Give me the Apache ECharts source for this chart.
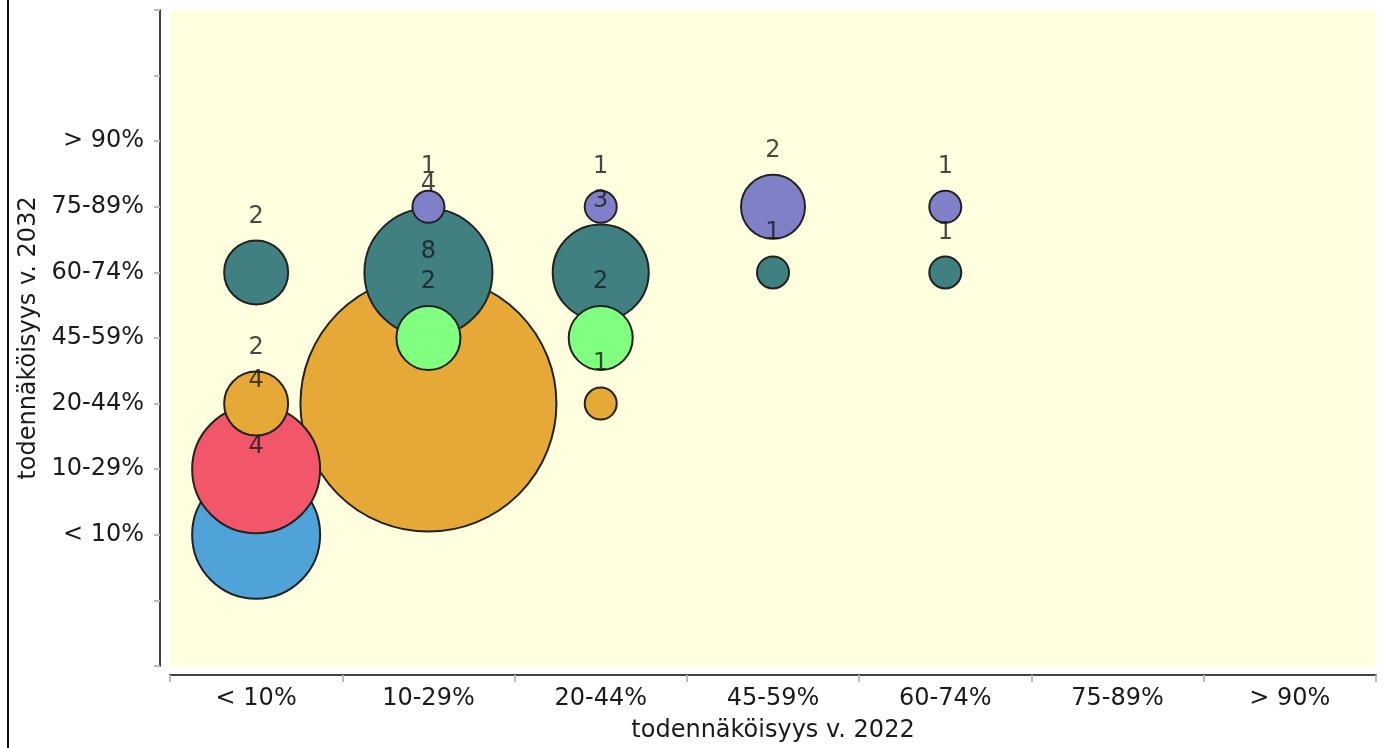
<!DOCTYPE html>
<html>
<head>
<meta charset="utf-8">
<script src="https://cdn.jsdelivr.net/npm/echarts@6/dist/echarts.min.js"></script>
<style>
html,body{margin:0;padding:0;background:#fff;}
#chart{width:1384px;height:748px;}
</style>
</head>
<body>
<div id="chart"></div>
<script>
// Categories
const xCategories = ['< 10%', '10-29%', '20-44%', '45-59%', '60-74%', '75-89%', '> 90%'];
const yCategories = ['< 10%', '10-29%', '20-44%', '45-59%', '60-74%', '75-89%', '> 90%'];
// Bubble data: x category index, y category index, count
const pointX     = [0, 0, 0, 0, 1, 1, 1, 1, 2, 2, 2, 2, 3, 3, 4, 4];
const pointY     = [0, 1, 2, 4, 2, 3, 4, 5, 2, 3, 4, 5, 4, 5, 4, 5];
const pointCount = [4, 4, 2, 2, 8, 2, 4, 1, 1, 2, 3, 1, 1, 2, 1, 1];
// Colour per y category
const yColors = ['#4fa3d9', '#f2566a', '#e6a937', '#80ff80', '#408080', '#8080c8', '#c0c0c0'];

const idx = pointCount.map((_, i) => i).sort((a, b) => pointCount[b] - pointCount[a] || a - b);
const bubbleData = idx.map(i => ({
  value: [pointX[i], pointY[i] + 1, pointCount[i]],
  itemStyle: { color: yColors[pointY[i]] }
}));

const font = 'DejaVu Sans';
const chart = echarts.init(document.getElementById('chart'), null, { renderer: 'canvas' });
chart.setOption({
  animation: false,
  backgroundColor: '#ffffff',
  graphic: [{
    type: 'rect', left: 7, top: 0, shape: { width: 2, height: 748 },
    style: { fill: '#111' }, silent: true
  }],
  grid: { left: 170, right: 8, top: 10, bottom: 81, show: true, backgroundColor: '#ffffe0', borderWidth: 0 },
  xAxis: {
    type: 'category',
    data: xCategories,
    boundaryGap: true,
    offset: 9,
    name: 'todennäköisyys v. 2022',
    nameLocation: 'middle',
    nameGap: 44,
    nameTextStyle: { fontFamily: font, fontSize: 24, color: '#1a1a1a' },
    axisLine: { onZero: false, lineStyle: { color: '#444', width: 2 } },
    axisTick: { show: true, length: 7, alignWithLabel: false, lineStyle: { color: '#bbb', width: 2 } },
    axisLabel: { fontFamily: font, fontSize: 24, color: '#1a1a1a', margin: 12, interval: 0 },
    splitLine: { show: false }
  },
  yAxis: {
    type: 'value',
    min: -1, max: 9, interval: 1,
    offset: 10,
    name: 'todennäköisyys v. 2032',
    nameLocation: 'middle',
    nameGap: 108,
    nameRotate: 90,
    nameTextStyle: { fontFamily: font, fontSize: 24, color: '#1a1a1a' },
    axisLine: { show: true, onZero: false, lineStyle: { color: '#444', width: 2 } },
    axisTick: { show: true, length: 6, lineStyle: { color: '#bbb', width: 2 } },
    axisLabel: {
      fontFamily: font, fontSize: 24, color: '#1a1a1a', margin: 16,
      formatter: v => (v >= 1 && v <= 7) ? yCategories[v - 1] : ''
    },
    splitLine: { show: false }
  },
  series: [{
    type: 'scatter',
    data: bubbleData,
    symbolSize: d => d[2] * 32,
    itemStyle: { borderColor: '#222', borderWidth: 2, opacity: 1 },
    z: 2,
    silent: true
  }, {
    type: 'scatter',
    data: bubbleData.map(d => ({ value: d.value })),
    symbolSize: d => d[2] * 32,
    itemStyle: { color: 'rgba(0,0,0,0)', borderWidth: 0 },
    label: {
      show: true, position: 'top', distance: 12,
      formatter: p => String(p.value[2]),
      fontFamily: font, fontSize: 24, color: '#1a1a1a'
    },
    z: 5,
    silent: true
  }]
});
</script>
</body>
</html>
